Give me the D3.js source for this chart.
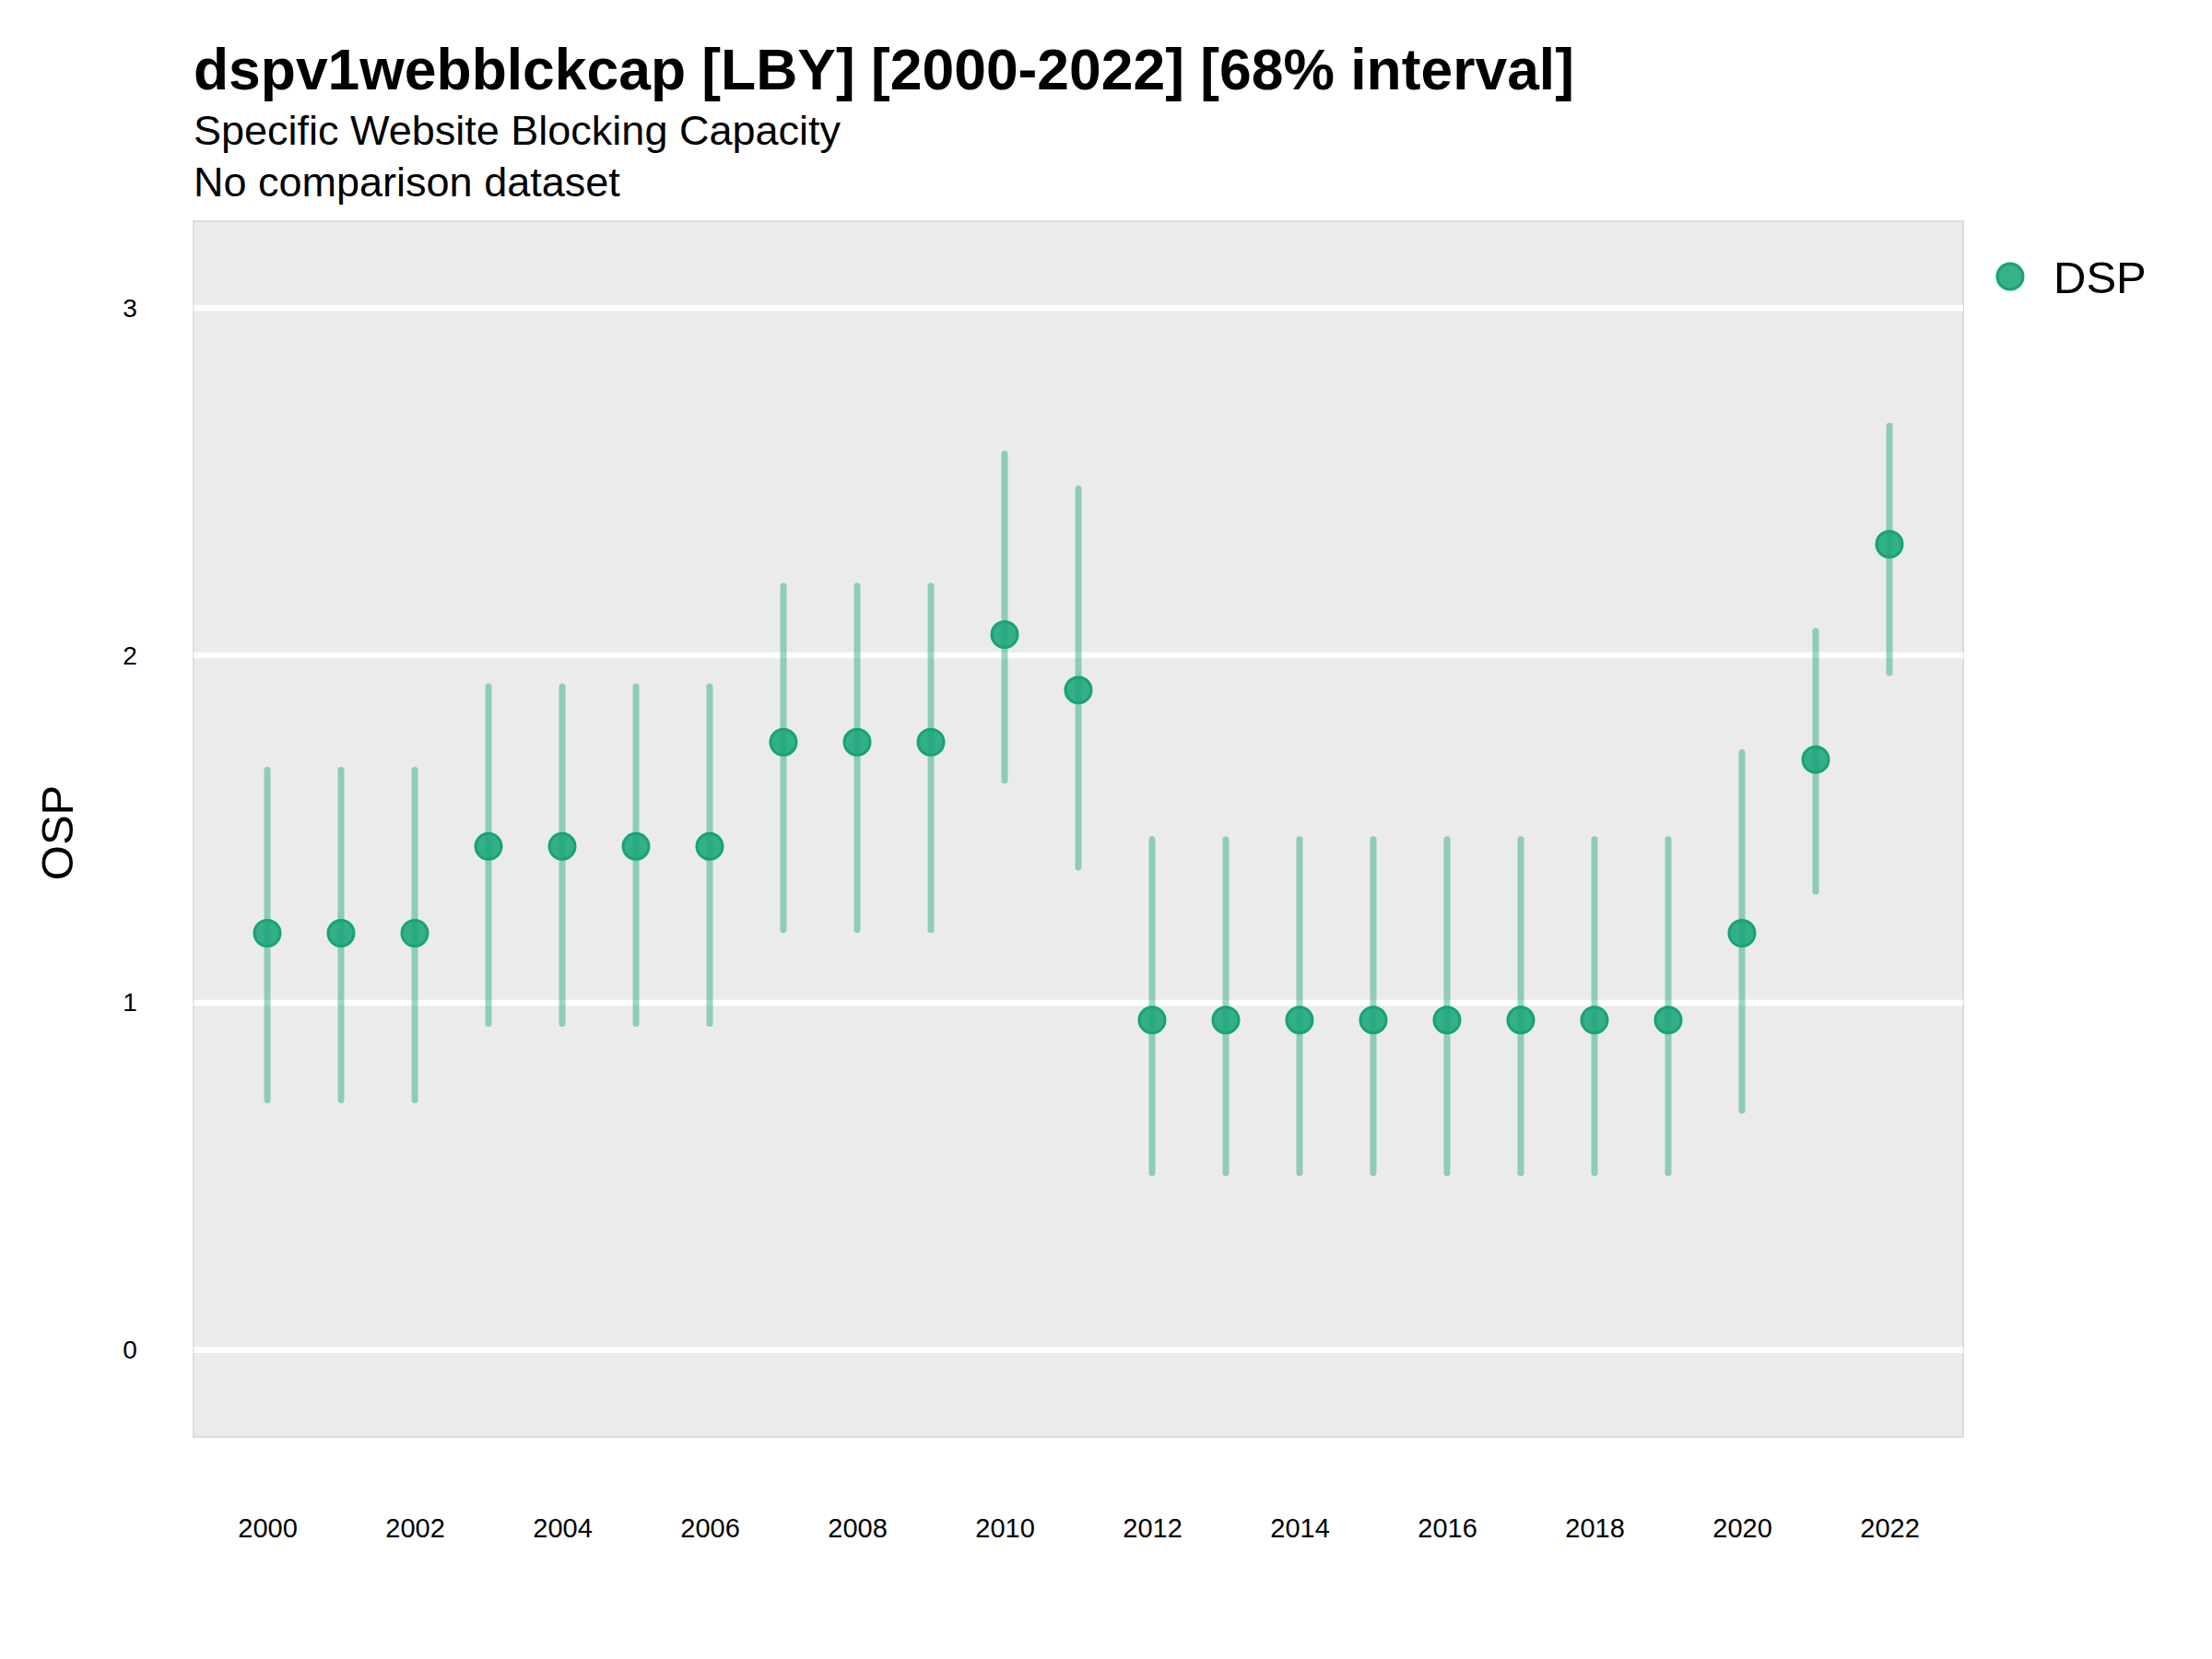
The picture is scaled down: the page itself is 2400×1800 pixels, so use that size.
<!DOCTYPE html>
<html>
<head>
<meta charset="utf-8">
<script src="https://cdn.jsdelivr.net/npm/d3@7"></script>
<style>
    body { margin: 0; background: #fff; }
    text { font-family: "Liberation Sans", Arial, Helvetica, sans-serif; fill: #000; }
</style>
</head>
<body>
<svg id="chart"></svg>
<script>
// values
const years = [2000, 2001, 2002, 2003, 2004, 2005, 2006, 2007, 2008, 2009, 2010, 2011,
               2012, 2013, 2014, 2015, 2016, 2017, 2018, 2019, 2020, 2021, 2022];
const osp = [1.20, 1.20, 1.20, 1.45, 1.45, 1.45, 1.45, 1.75, 1.75, 1.75, 2.06, 1.90,
             0.95, 0.95, 0.95, 0.95, 0.95, 0.95, 0.95, 0.95, 1.20, 1.70, 2.32];
const lower = [0.72, 0.72, 0.72, 0.94, 0.94, 0.94, 0.94, 1.21, 1.21, 1.21, 1.64, 1.39,
               0.51, 0.51, 0.51, 0.51, 0.51, 0.51, 0.51, 0.51, 0.69, 1.32, 1.95];
const upper = [1.67, 1.67, 1.67, 1.91, 1.91, 1.91, 1.91, 2.20, 2.20, 2.20, 2.58, 2.48,
               1.47, 1.47, 1.47, 1.47, 1.47, 1.47, 1.47, 1.47, 1.72, 2.07, 2.66];
const yTicks = [0, 1, 2, 3];
const xTicks = [2000, 2002, 2004, 2006, 2008, 2010, 2012, 2014, 2016, 2018, 2020, 2022];
const seriesName = 'DSP';

const title = 'dspv1webblckcap [LBY] [2000-2022] [68% interval]';
const subtitle1 = 'Specific Website Blocking Capacity';
const subtitle2 = 'No comparison dataset';

const width = 2400, height = 1800;
const panel = { left: 210, right: 2130, top: 240, bottom: 1559 };
const color = '#1aa67a';

let svg = d3.select('#chart')
    .attr('width', width)
    .attr('height', height);

let rows = years.map((d, i) => ({ year: d, value: osp[i], lo: lower[i], hi: upper[i] }));

let x = d3.scaleLinear()
    .domain([1999, 2023])
    .range([panel.left, panel.right]);
let y = d3.scaleLinear()
    .domain([-0.25, 3.25])
    .range([panel.bottom, panel.top]);

// panel background
svg.append('rect')
    .attr('x', panel.left)
    .attr('y', panel.top)
    .attr('width', panel.right - panel.left)
    .attr('height', panel.bottom - panel.top)
    .attr('fill', '#ebebeb')
    .attr('stroke', '#dcdcdc')
    .attr('stroke-width', 2);

// gridlines
svg.append('g').selectAll('line')
    .data(yTicks)
    .enter()
    .append('line')
    .attr('x1', panel.left)
    .attr('x2', panel.right)
    .attr('y1', d => y(d))
    .attr('y2', d => y(d))
    .attr('stroke', '#fff')
    .attr('stroke-width', 6.5);

// axes (labels only)
let yAxis = svg.append('g')
    .attr('transform', 'translate(' + 150 + ',0)')
    .call(d3.axisLeft(y).tickValues(yTicks).tickSize(0).tickPadding(0).tickFormat(d3.format('d')));
yAxis.select('.domain').remove();
yAxis.selectAll('text')
    .attr('text-anchor', 'middle')
    .attr('x', -9)
    .style('font-size', '28px')
    .style('font-family', '"Liberation Sans", Arial, sans-serif');

let xAxis = svg.append('g')
    .attr('transform', 'translate(0,' + 1647 + ')')
    .call(d3.axisBottom(x).tickValues(xTicks).tickSize(0).tickPadding(0).tickFormat(d3.format('d')));
xAxis.select('.domain').remove();
xAxis.selectAll('text')
    .attr('dy', '0.71em')
    .style('font-size', '29px')
    .style('font-family', '"Liberation Sans", Arial, sans-serif');

// interval bars
svg.append('g').selectAll('line')
    .data(rows)
    .enter()
    .append('line')
    .attr('x1', d => x(d.year))
    .attr('x2', d => x(d.year))
    .attr('y1', d => y(d.lo))
    .attr('y2', d => y(d.hi))
    .attr('stroke', color)
    .attr('stroke-opacity', 0.45)
    .attr('stroke-width', 7)
    .attr('stroke-linecap', 'round');

// points
svg.append('g').selectAll('circle')
    .data(rows)
    .enter()
    .append('circle')
    .attr('cx', d => x(d.year))
    .attr('cy', d => y(d.value))
    .attr('r', 14)
    .attr('fill', color)
    .attr('fill-opacity', 0.88)
    .attr('stroke', '#17a376')
    .attr('stroke-width', 3);

// titles
svg.append('text')
    .attr('x', 210)
    .attr('y', 97)
    .style('font-size', '62.4px')
    .style('font-weight', 'bold')
    .text(title);
svg.append('text')
    .attr('x', 210)
    .attr('y', 157)
    .style('font-size', '45px')
    .text(subtitle1);
svg.append('text')
    .attr('x', 210)
    .attr('y', 213)
    .style('font-size', '45px')
    .text(subtitle2);

// y axis title
svg.append('text')
    .attr('transform', 'translate(79,' + ((panel.top + panel.bottom) / 2 + 4) + ') rotate(-90)')
    .attr('text-anchor', 'middle')
    .style('font-size', '49px')
    .text('OSP');

// legend
let legend = svg.append('g')
    .attr('transform', 'translate(2181,300)');
legend.append('circle')
    .attr('r', 14)
    .attr('fill', color)
    .attr('fill-opacity', 0.88)
    .attr('stroke', '#17a376')
    .attr('stroke-width', 3);
legend.append('text')
    .attr('x', 47)
    .attr('y', 18)
    .style('font-size', '49px')
    .text(seriesName);
</script>
</body>
</html>
